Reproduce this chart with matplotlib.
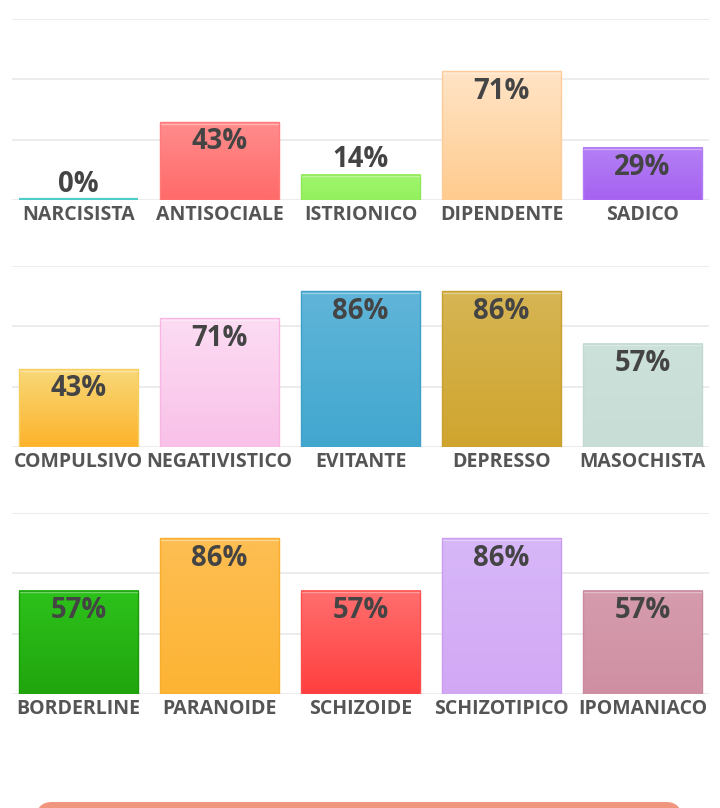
import matplotlib

matplotlib.use("Agg")

import matplotlib.pyplot as plt
import numpy as np
from matplotlib.colors import to_rgb
from matplotlib.patches import FancyBboxPatch, Rectangle

plt.rcParams["font.family"] = ["Open Sans", "DejaVu Sans"]

# one list per panel, top to bottom
labels_1 = ["NARCISISTA", "ANTISOCIALE", "ISTRIONICO", "DIPENDENTE", "SADICO"]
values_1 = [0, 43, 14, 71, 29]
labels_2 = ["COMPULSIVO", "NEGATIVISTICO", "EVITANTE", "DEPRESSO", "MASOCHISTA"]
values_2 = [43, 71, 86, 86, 57]
labels_3 = ["BORDERLINE", "PARANOIDE", "SCHIZOIDE", "SCHIZOTIPICO", "IPOMANIACO"]
values_3 = [57, 86, 57, 86, 57]

# (top colour, bottom colour, edge colour)
colors_1 = [
    ("#5fd3cb", "#4ecdc4", "#4ecdc4"),
    ("#ff8c8c", "#ff6a6a", "#ff7a7a"),
    ("#a0f66c", "#94f05e", "#8ee85a"),
    ("#ffe4c6", "#ffcb8e", "#ffcc99"),
    ("#b480f6", "#a662f0", "#b27cf5"),
]
colors_2 = [
    ("#f8d877", "#fdb32c", "#f6cf60"),
    ("#fcdcf3", "#f9c1e8", "#f8b6e4"),
    ("#60b5d9", "#42a7cf", "#3fa0c8"),
    ("#d6b553", "#cfa52e", "#c9a030"),
    ("#cce1d9", "#c8ddd5", "#c2d9d0"),
]
colors_3 = [
    ("#2dc21b", "#21a50e", "#1c9a0c"),
    ("#fdbe52", "#fdb434", "#f9ad2c"),
    ("#ff6e6e", "#ff3f3f", "#ff5050"),
    ("#d7b7f8", "#d2a8f5", "#c99cf0"),
    ("#d59cad", "#cf8fa3", "#c98aa0"),
]

panels = [
    (labels_1, values_1, colors_1, 200),
    (labels_2, values_2, colors_2, 447),
    (labels_3, values_3, colors_3, 694),
]

W, H = 720, 808
fig = plt.figure(figsize=(W / 100, H / 100), dpi=100)
fig.patch.set_facecolor("white")

left_px, right_px = 12, 709
plot_h = 181
bar_w = 0.85


def gradient_bar(ax, x, h, top, bottom, edge):
    if h > 0:
        t = np.array(to_rgb(top))
        b = np.array(to_rgb(bottom))
        f = np.linspace(0, 1, 64)[:, None]
        grad = (t * (1 - f) + b * f)[:, None, :]
        ax.imshow(grad, extent=[x - bar_w / 2, x + bar_w / 2, 0, h],
                  aspect="auto", zorder=2, interpolation="bilinear")
        ax.add_patch(Rectangle((x - bar_w / 2, 0), bar_w, h, fill=False,
                               edgecolor=edge, lw=1.0, zorder=3))
        ax.plot([x - bar_w / 2 + 0.01, x + bar_w / 2 - 0.01], [h - 0.8, h - 0.8],
                color="white", alpha=0.35, lw=1.0, zorder=3)
    else:
        ax.plot([x - bar_w / 2, x + bar_w / 2], [0.6, 0.6], color=edge,
                lw=1.6, zorder=3, solid_capstyle="butt")


for labels, values, colors, base_px in panels:
    ax = fig.add_axes([left_px / W, (H - base_px) / H,
                       (right_px - left_px) / W, plot_h / H])
    x = np.arange(len(labels))
    ax.set_xlim(-0.472, len(labels) - 1 + 0.472)
    ax.set_ylim(0, 100)
    for g in [0, 100 / 3, 200 / 3, 100]:
        ax.axhline(g, color="#ececec", lw=1.4, zorder=1)
    for xi, v, (top, bottom, edge) in zip(x, values, colors):
        gradient_bar(ax, xi, v, top, bottom, edge)
        if v >= 25:
            ax.annotate(f"{v}%", (xi, v), xytext=(0, -14.2),
                        textcoords="offset points", ha="center", va="center",
                        fontsize=19.8, fontweight="bold", color="#444444",
                        zorder=4)
        else:
            ax.annotate(f"{v}%", (xi, v), xytext=(0, 11),
                        textcoords="offset points", ha="center", va="center",
                        fontsize=19.8, fontweight="bold", color="#444444",
                        zorder=4, annotation_clip=False)
    ax.set_xticks(x)
    ax.set_xticklabels(labels, fontsize=14.0, fontweight="bold", color="#555555")
    ax.tick_params(axis="x", length=0, pad=3.5)
    ax.set_yticks([])
    for s in ax.spines.values():
        s.set_visible(False)
    ax.set_facecolor("none")

# salmon button peeking in at the bottom edge
btn = FancyBboxPatch((36 / W, -22 / H), (682 - 36) / W, 28 / H,
                     boxstyle="round,pad=0,rounding_size=0.022",
                     transform=fig.transFigure, facecolor="#f0967e",
                     edgecolor="none")
fig.patches.append(btn)

fig.savefig("out.png", dpi=100, facecolor="white")
